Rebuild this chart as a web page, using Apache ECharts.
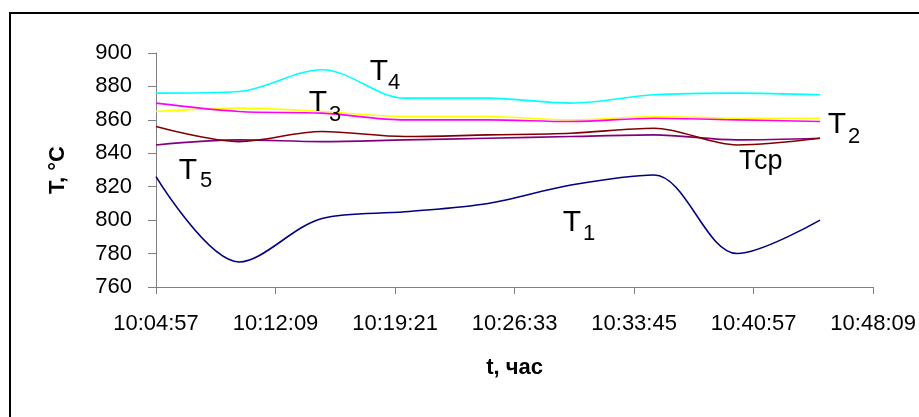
<!DOCTYPE html>
<html>
<head>
<meta charset="utf-8">
<script src="https://cdn.jsdelivr.net/npm/echarts@6/dist/echarts.min.js"></script>
<style>
  html, body { margin: 0; padding: 0; background: #fff; }
  #chart { width: 919px; height: 417px; }
</style>
</head>
<body>
<div id="chart"></div>
<script>
// Measurement times (hh:mm:ss)
const times = ['10:04:57', '10:09:57', '10:14:57', '10:19:57', '10:24:57',
               '10:29:57', '10:34:57', '10:39:57', '10:44:57'];

// Temperatures, °C
const T1  = [826, 775, 801, 805, 810, 821, 827, 780, 800];
const T2  = [845, 848, 847, 848, 849, 850, 851, 848, 849];
const T3  = [870, 865, 864, 860, 860, 859, 861, 860, 859];
const T4  = [876, 877, 890, 873, 873, 870, 875, 876, 875];
const T5  = [865, 867, 865, 862, 862, 860, 862, 861, 861];
const Tcp = [856, 847, 853, 850, 851, 852, 855, 845, 849];

// Axis range
const xStart = '10:04:57';
const xEnd = '10:48:09';
const xStep = 432; // seconds between time ticks
const yMin = 760, yMax = 900, yStep = 20;

const toSec = s => { const [h, m, x] = s.split(':').map(Number); return h * 3600 + m * 60 + x; };
const pad = n => String(n).padStart(2, '0');
const fmt = sec => `${Math.floor(sec / 3600)}:${pad(Math.floor(sec / 60) % 60)}:${pad(sec % 60)}`;
const t0 = toSec(xStart);
const pts = arr => arr.map((v, i) => [toSec(times[i]) - t0, v]);

const FONT = '"Liberation Sans", Arial, sans-serif';

function line(name, arr, color) {
  return {
    name, type: 'line', data: pts(arr), smooth: 0.33, showSymbol: false,
    lineStyle: { color, width: 1.6 }, itemStyle: { color }, z: 3
  };
}

const chart = echarts.init(document.getElementById('chart'), null, { renderer: 'canvas' });

const lbl = (text, x, y, size) => ({
  type: 'text', x, y, z: 10,
  style: { text, font: `${size}px ${FONT}`, fill: '#000', align: 'center', verticalAlign: 'middle' }
});

chart.setOption({
  backgroundColor: '#fff',
  animation: false,
  grid: { left: 156, right: 45, top: 53, bottom: 130 },
  xAxis: {
    type: 'value', min: 0, max: toSec(xEnd) - t0, interval: xStep,
    name: 't, час', nameLocation: 'middle', nameGap: 70,
    nameTextStyle: { fontFamily: FONT, fontSize: 22, fontWeight: 'bold', color: '#000' },
    axisLine: { lineStyle: { color: '#808080', width: 1 } },
    axisTick: { show: true, length: 7, lineStyle: { color: '#808080' } },
    axisLabel: { formatter: v => fmt(v + t0), fontFamily: FONT, fontSize: 22, color: '#000', margin: 26 },
    splitLine: { show: false }
  },
  yAxis: {
    type: 'value', min: yMin, max: yMax, interval: yStep,
    name: 'T, °C', nameLocation: 'middle', nameGap: 87, nameRotate: 90,
    nameTextStyle: { fontFamily: FONT, fontSize: 22, fontWeight: 'bold', color: '#000' },
    axisLine: { show: true, lineStyle: { color: '#808080', width: 1 } },
    axisTick: { show: true, length: 8, lineStyle: { color: '#808080' } },
    axisLabel: { fontFamily: FONT, fontSize: 22, color: '#000', margin: 24 },
    splitLine: { show: false }
  },
  series: [
    line('T1', T1, '#000080'),
    line('T2', T2, '#800080'),
    line('T5', T5, '#FFFF00'),
    line('T3', T3, '#FF00FF'),
    line('T4', T4, '#00FFFF'),
    line('Tср', Tcp, '#800000')
  ],
  graphic: [
    { type: 'rect', shape: { x: 10, y: 13, width: 1000, height: 500 },
      style: { fill: 'none', stroke: '#000', lineWidth: 2 }, z: 0 },
    lbl('T', 379, 72, 30), lbl('4', 394, 83, 22),
    lbl('T', 318, 103, 30), lbl('3', 335, 115, 22),
    lbl('T', 188, 171, 30), lbl('5', 206, 181, 22),
    lbl('T', 837, 125, 30), lbl('2', 854, 137, 22),
    lbl('T', 572, 223, 30), lbl('1', 589, 234, 22),
    { type: 'text', x: 739, y: 162, z: 10,
      style: { text: 'Тср', font: `27px ${FONT}`, fill: '#000', align: 'left', verticalAlign: 'middle' } }
  ]
});
</script>
</body>
</html>
